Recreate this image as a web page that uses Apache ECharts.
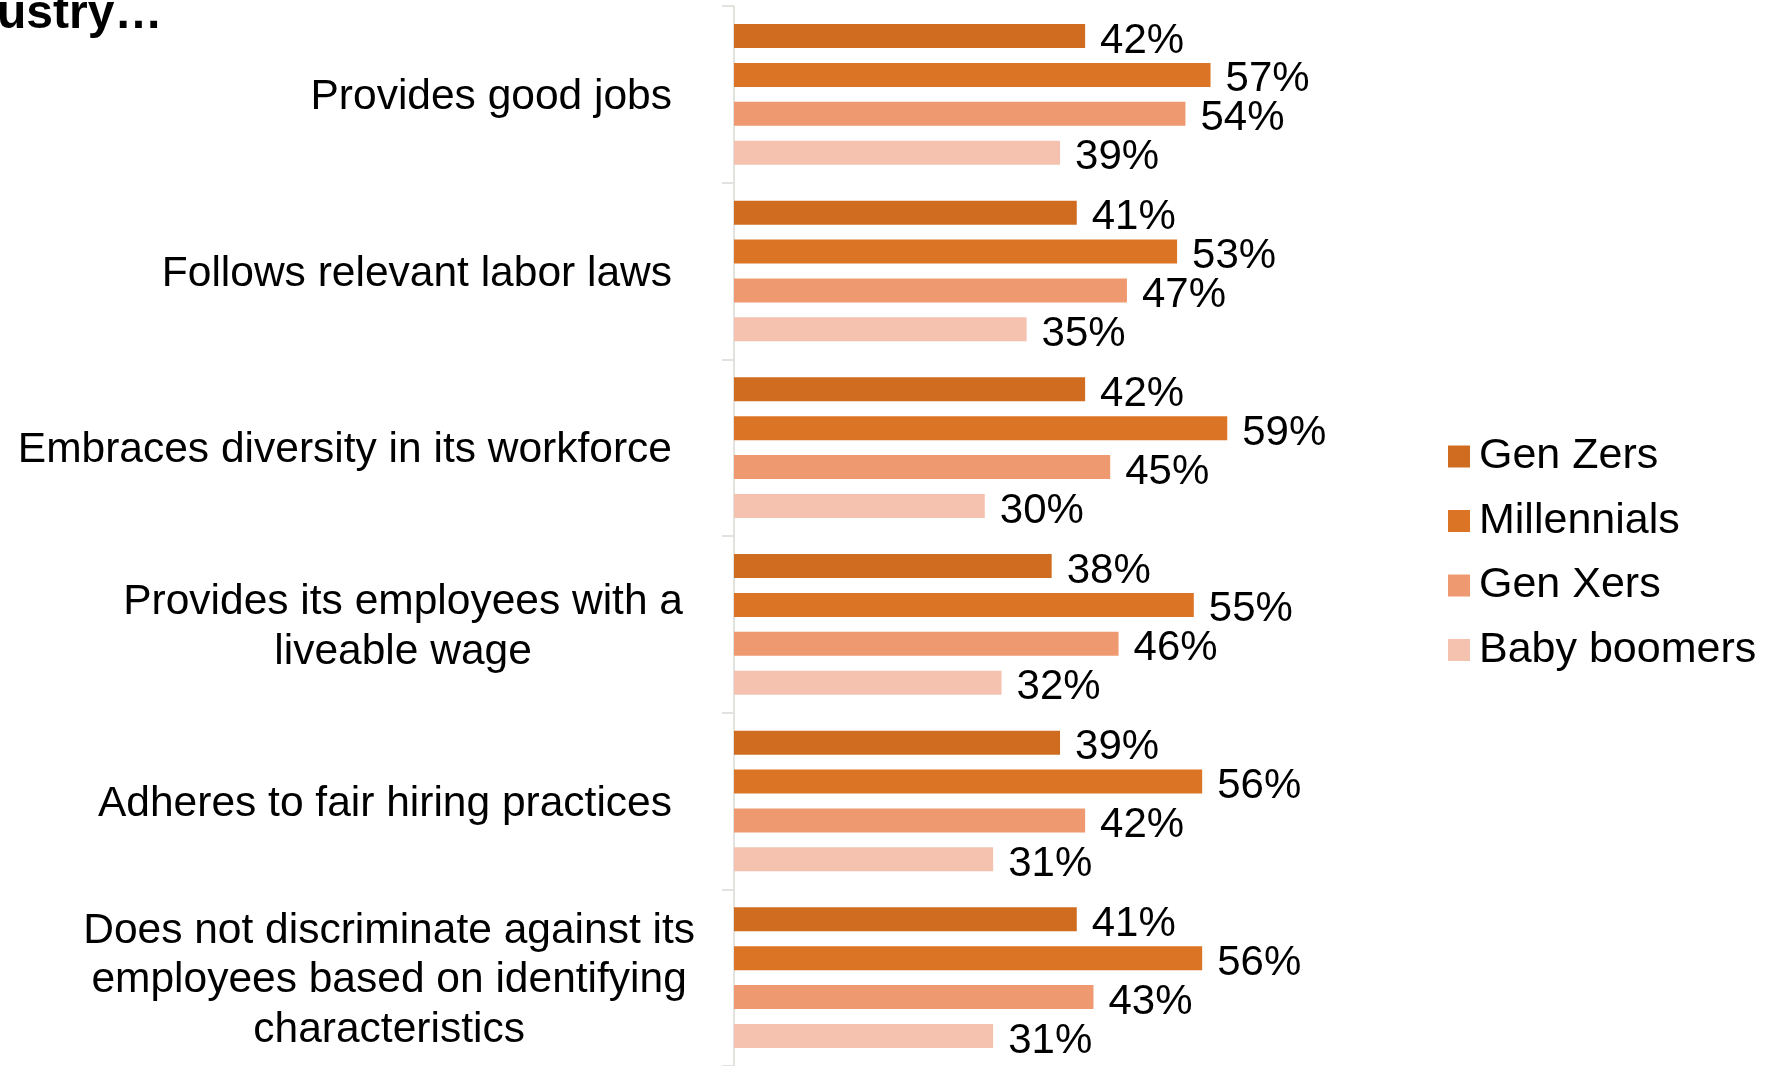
<!DOCTYPE html>
<html>
<head>
<meta charset="utf-8">
<script src="https://cdn.jsdelivr.net/npm/echarts@6/dist/echarts.min.js"></script>
<style>
  html, body { margin: 0; padding: 0; background: #ffffff; }
  #chart { width: 1782px; height: 1066px; }
</style>
</head>
<body>
<div id="chart"></div>
<script>
// Statements rated by each generation (share agreeing)
const categories = [
  'Provides good jobs',
  'Follows relevant labor laws',
  'Embraces diversity in its workforce',
  'Provides its employees with a\nliveable wage',
  'Adheres to fair hiring practices',
  'Does not discriminate against its\nemployees based on identifying\ncharacteristics'
];
const seriesNames = ['Gen Zers', 'Millennials', 'Gen Xers', 'Baby boomers'];
const genZers     = [42, 41, 42, 38, 39, 41];
const millennials = [57, 53, 59, 55, 56, 56];
const genXers     = [54, 47, 45, 46, 42, 43];
const boomers     = [39, 35, 30, 32, 31, 31];

const seriesValues = [genZers, millennials, genXers, boomers];
const palette = ['#D06C20', '#DC7426', '#EF9970', '#F5C2B0'];
const FONT = '"Liberation Sans", Arial, sans-serif';

// wrapped category labels sit a little further right than single-line ones
const labelRightPad = [23, 23, 23, 12, 23, 0];

const chart = echarts.init(document.getElementById('chart'), null, { renderer: 'canvas' });

chart.setOption({
  animation: false,
  backgroundColor: '#ffffff',
  title: {
    text: 'ustry…',
    left: -3,
    top: -9,
    padding: 0,
    textStyle: { fontFamily: FONT, fontWeight: 'bold', fontSize: 48, lineHeight: 48, color: '#000000' }
  },
  legend: {
    orient: 'vertical',
    left: 1448,
    top: 435,
    padding: 0,
    itemWidth: 22,
    itemHeight: 22,
    itemGap: 21.5,
    icon: 'rect',
    data: seriesNames,
    textStyle: { fontFamily: FONT, fontSize: 43, lineHeight: 42, color: '#000000', padding: [0, 0, 0, 4] }
  },
  grid: { left: 734, top: 6, width: 836, height: 1062, containLabel: false },
  xAxis: {
    type: 'value',
    min: 0,
    max: 100,
    show: false
  },
  yAxis: {
    type: 'category',
    inverse: true,
    data: categories.map((c, i) => ({
      value: c,
      textStyle: { padding: [6, labelRightPad[i], 0, 0] }
    })),
    axisLine: { show: true, lineStyle: { color: '#E2E2DE', width: 2 } },
    axisTick: { show: true, length: 12, lineStyle: { color: '#E2E2DE', width: 2 } },
    axisLabel: {
      margin: 39,
      formatter: v => v.split('\n').map(line => '{c|' + line + '}').join('\n'),
      rich: {
        c: { align: 'center', fontFamily: FONT, fontSize: 42.5, lineHeight: 49.5, color: '#000000' }
      }
    }
  },
  series: seriesValues.map((vals, i) => ({
    name: seriesNames[i],
    type: 'bar',
    data: vals,
    barWidth: 24,
    barGap: '62%',
    barCategoryGap: '20%',
    itemStyle: { color: palette[i] },
    label: {
      show: true,
      position: 'right',
      distance: 15,
      offset: [0, 5],
      formatter: p => p.value + '%',
      fontFamily: FONT,
      fontSize: 42,
      color: '#000000'
    }
  }))
});
</script>
</body>
</html>
